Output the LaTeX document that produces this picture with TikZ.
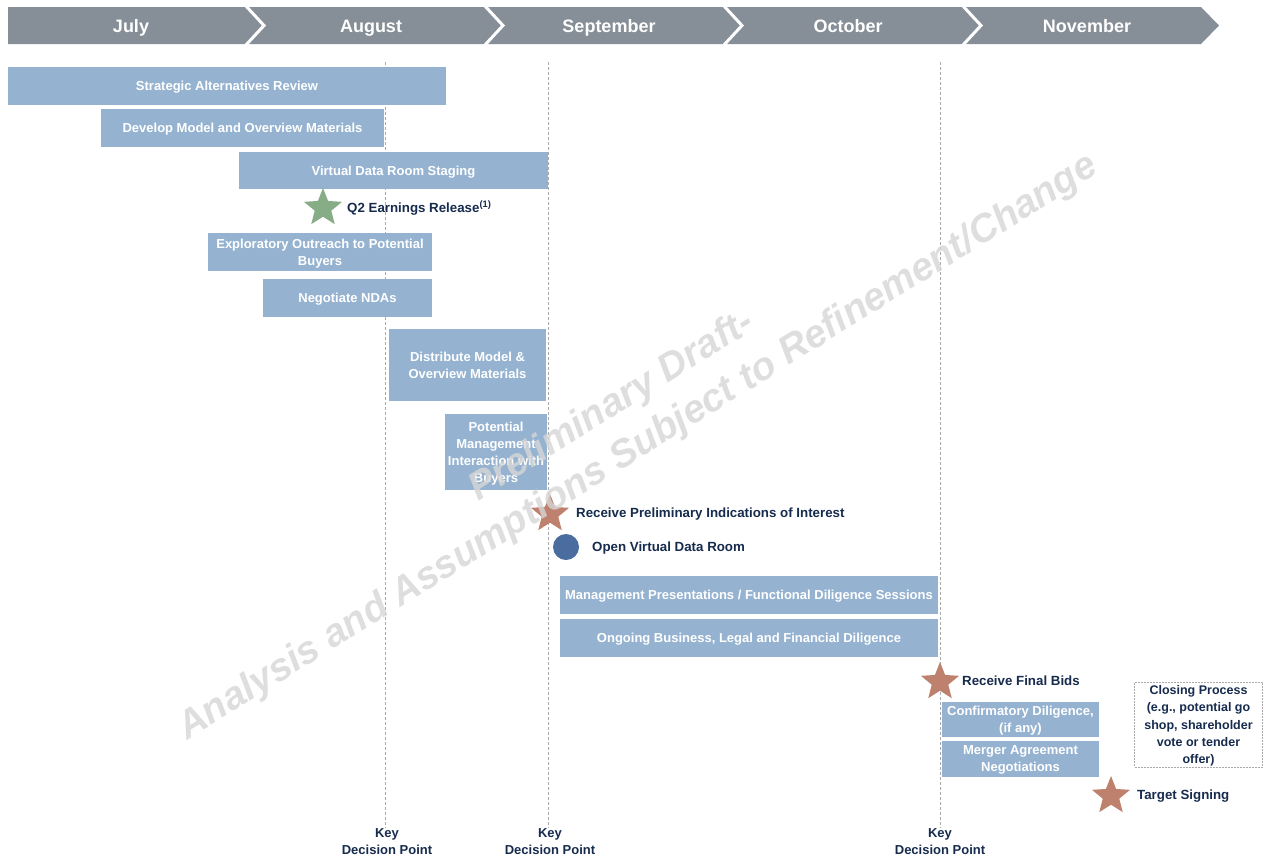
\documentclass[tikz,border=0pt]{standalone}
\usepackage{fontspec}
\setmainfont{Liberation Sans}
\usepackage{tikz}
\usetikzlibrary{shapes,arrows,positioning,calc}
\usepackage{xcolor}
\definecolor{header}{RGB}{134,142,151}
\definecolor{taskblue}{RGB}{149,179,209}
\definecolor{navy}{RGB}{22,43,77}
\definecolor{stargreen}{RGB}{134,173,134}
\definecolor{starbrown}{RGB}{189,129,110}
\definecolor{dotblue}{RGB}{74,108,158}
\definecolor{guide}{RGB}{170,170,170}

\tikzset{
  task/.style={fill=taskblue,text=white,font=\fontsize{13}{17}\selectfont\bfseries,align=center,inner sep=2pt,text depth=0pt},
  milestone/.style={star,star points=5,star point ratio=2.3,inner sep=0pt,minimum size=40pt},
  event/.style={text=navy,font=\fontsize{13.3}{17}\selectfont\bfseries,anchor=west,inner sep=2pt,text depth=0pt},
  month/.style={text=white,font=\fontsize{18}{20}\selectfont\bfseries,anchor=base},
  keypoint/.style={text=navy,font=\fontsize{13}{17}\selectfont\bfseries,align=center,inner sep=1pt},
  guideline/.style={guide,line width=0.8pt,dash pattern=on 3pt off 2pt}
}

\begin{document}
\begin{tikzpicture}[x=1pt,y=-1pt]
\useasboundingbox (0,0) rectangle (1264,863);

\fill[header] (8,7) -- (1201,7) -- (1219,25.5) -- (1201,44) -- (8,44) -- cycle;
\foreach \r in {245,484,723,962}
  \draw[white,line width=3pt] (\r,5) -- (\r+19,25.5) -- (\r,46);
\node[month] (jul) at (131,32.5) {July};
\node[month] (aug) at (371,32.5) {August};
\node[month] (sep) at (609,32.5) {September};
\node[month] (oct) at (848,32.5) {October};
\node[month] (nov) at (1087,32.5) {November};

\coordinate (kt1) at (385,62);
\coordinate (kt2) at (548,62);
\coordinate (kt3) at (940,62);
\node[keypoint] (kdp1) at (387,842) {Key\\Decision Point};
\node[keypoint] (kdp2) at (550,842) {Key\\Decision Point};
\node[keypoint] (kdp3) at (940,842) {Key\\Decision Point};
\draw[guideline] (kt1) -- (kt1 |- kdp1.north);
\draw[guideline] (kt2) -- (kt2 |- kdp2.north);
\draw[guideline] (kt3) -- (kt3 |- kdp3.north);

\node[task,minimum width=438pt,minimum height=38pt] (sar) at (227,86) {Strategic Alternatives Review};
\node[task,minimum width=283pt,minimum height=38pt] (dev) at (242.5,128) {Develop Model and Overview Materials};
\node[task,minimum width=309pt,minimum height=37pt] (vdr) at (393.5,170.5) {Virtual Data Room Staging};
\node[milestone,fill=stargreen] (q2) at (323,208) {};
\node[event] (q2txt) at (345,207) {Q2 Earnings Release\textsuperscript{(1)}};
\node[task,minimum width=224pt,minimum height=38pt] (exp) at (320,252) {Exploratory Outreach to Potential\\Buyers};
\node[task,minimum width=169pt,minimum height=38pt] (nda) at (347.5,298) {Negotiate NDAs};
\node[task,minimum width=157pt,minimum height=72pt] (dist) at (467.5,365) {Distribute Model \&\\Overview Materials};
\node[task,minimum width=102pt,minimum height=76pt] (pmi) at (496,452) {Potential\\Management\\Interaction with\\Buyers};
\node[milestone,fill=starbrown] (ioi) at (550,514) {};
\node[event] (ioitxt) at (574,513) {Receive Preliminary Indications of Interest};
\node[circle,fill=dotblue,minimum size=26pt,inner sep=0pt] (ovdr) at (566,547) {};
\node[event] (ovdrtxt) at (590,547) {Open Virtual Data Room};
\node[task,minimum width=378pt,minimum height=38pt] (mgmt) at (749,595) {Management Presentations / Functional Diligence Sessions};
\node[task,minimum width=378pt,minimum height=38pt] (ong) at (749,638) {Ongoing Business, Legal and Financial Diligence};
\node[milestone,fill=starbrown] (bids) at (940,682) {};
\node[event] (bidstxt) at (960,681) {Receive Final Bids};
\node[task,minimum width=157pt,minimum height=35pt] (conf) at (1020.5,719.5) {Confirmatory Diligence,\\(if any)};
\node[task,minimum width=157pt,minimum height=36pt] (merg) at (1020.5,759) {Merger Agreement\\Negotiations};
\node[draw=guide,dash pattern=on 2pt off 1pt,line width=0.8pt,text=navy,font=\fontsize{12.5}{17.2}\selectfont\bfseries,align=center,minimum width=128pt,minimum height=85pt,inner sep=1pt,text depth=0pt] (close) at (1198.5,724.5) {Closing Process\\(e.g., potential go\\shop, shareholder\\vote or tender\\offer)};
\node[milestone,fill=starbrown] (sign) at (1111,796) {};
\node[event] (signtxt) at (1135,795) {Target Signing};

\node[text=black!16,text opacity=0.8,font=\fontsize{39}{49}\selectfont\bfseries\itshape,align=center,rotate=31.9] (draft) at (625,427) {Preliminary Draft-\\Analysis and Assumptions Subject to Refinement/Change};
\end{tikzpicture}
\end{document}
